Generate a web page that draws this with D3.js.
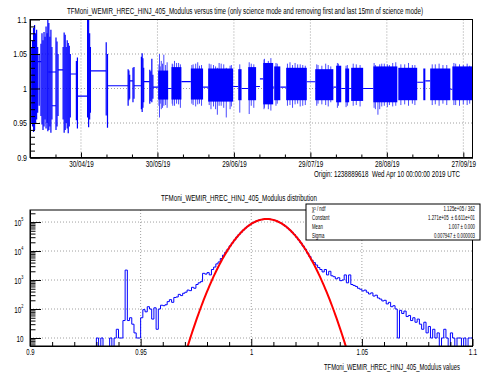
<!DOCTYPE html>
<html><head><meta charset="utf-8">
<script src="https://cdn.jsdelivr.net/npm/d3@7"></script>
<style>
body{margin:0;background:#fff;}
svg{display:block;font-family:"Liberation Sans",Arial,Helvetica,sans-serif;}
text{white-space:pre;}
</style></head><body>
<svg id="c" width="482" height="375"></svg>
<script>
// ================= DATA =================
// --- top panel: modulus vs time (days since origin 2019-04-10 00:00 UTC)
const topTitle = "TFMoni_WEMIR_HREC_HINJ_405_Modulus versus time (only science mode and removing first and last 15mn of science mode)";
const originLabel = "Origin: 1238889618  Wed Apr 10 00:00:00 2019 UTC";
const timeDomainDays = [0, 173.6];
const timeMajorDays = [20, 50, 80, 110, 140, 170];
const timeMajorLabels = ["30/04/19","30/05/19","29/06/19","29/07/19","28/08/19","27/09/19"];
const timeMinorDays = [0,10,30,40,60,70,90,100,120,130,150,160];
const modulusTicks = [0.9,0.95,1,1.05,1.1];
const modulusTickLabels = ["0.9","0.95","1","1.05","1.1"];
const modulusMinorTicks = [0.91,0.92,0.93,0.94,0.96,0.97,0.98,0.99,1.01,1.02,1.03,1.04,1.06,1.07,1.08,1.09];
// dense science-mode blocks: [startDay, endDay, low, high]
const scienceBlocks = [
 [50.3,54.2,0.984,1.026],[55.5,59.4,0.984,1.031],[63.1,67.9,0.984,1.029],[69.9,79.7,0.981,1.029],
 [81.7,83.0,0.983,1.028],[85.6,88.7,0.983,1.031],[91.5,95.4,0.977,1.037],[95.8,98.2,0.983,1.032],
 [100.5,108.6,0.983,1.030],[111.9,119.0,0.983,1.028],[120.1,122.1,0.980,1.033],[123.7,125.2,0.980,1.029],
 [126.0,130.7,0.982,1.030],[134.7,144.1,0.980,1.032],[144.5,151.9,0.983,1.030],[154.3,155.1,0.983,1.029],
 [157.0,164.9,0.983,1.029],[165.7,173.4,0.983,1.032]
];
// individual excursions: [day, low, high]
const spikesEarly = [
 [0.5,0.95,1.06],[1.0,0.945,1.07],[1.4,0.937,1.088],[1.8,0.94,1.092],[2.2,0.95,1.08],[2.6,0.955,1.085],[3.0,0.965,1.06],[3.6,0.975,1.05],
 [4.3,0.96,1.065],[4.7,0.948,1.08],[5.1,0.94,1.07],[5.5,0.945,1.082],[5.9,0.955,1.075],[6.3,0.942,1.09],[6.7,0.95,1.08],[7.0,0.938,1.1],
 [7.4,0.94,1.095],[7.8,0.945,1.075],[8.2,0.936,1.085],[8.6,0.955,1.06],
 [10.2,0.94,1.074],[10.6,0.945,1.068],[11.0,0.96,1.05],
 [13.0,0.955,1.06],[13.4,0.936,1.081],[13.8,0.94,1.078],[14.2,0.95,1.06],[14.6,0.942,1.07],[15.0,0.935,1.066],[15.4,0.945,1.062],[15.8,0.958,1.05],
 [18.2,0.954,1.04],[18.6,0.942,1.045],
 [22.6,0.958,1.1],[23.0,0.944,1.1],[23.4,0.955,1.08],[23.7,0.965,1.06],
 [29.9,0.961,1.067],[30.4,0.943,1.05],
 [38.5,0.975,1.028],[38.8,0.983,1.026],[39.1,0.985,1.02],
 [40.4,0.98,1.03],[40.8,0.985,1.031],
 [43.7,0.97,1.046],[44.0,0.966,1.051],[44.3,0.972,1.044],[44.6,0.98,1.03],
 [47.0,0.978,1.027],[47.4,0.982,1.025],[47.8,0.98,1.043],[48.2,0.985,1.02]
];
const spikesInBlocks = [
 [50.6,0.975,1.035],[50.8,0.958,1.05],[51.1,0.978,1.032],[51.5,0.97,1.04],[52.0,0.972,1.036],[52.5,0.975,1.049],[53.2,0.976,1.034],[53.8,0.972,1.038],
 [55.8,0.978,1.036],[56.0,0.975,1.035],[56.7,0.975,1.04],[57.5,0.978,1.037],[58.3,0.977,1.037],[59.0,0.972,1.035],
 [63.5,0.978,1.034],[64.0,0.976,1.035],[65.0,0.974,1.036],[65.8,0.977,1.038],[66.5,0.978,1.033],[67.3,0.975,1.034],
 [70.3,0.976,1.036],[71.0,0.97,1.035],[72.0,0.974,1.034],[72.8,0.97,1.032],[73.5,0.962,1.03],[74.2,0.975,1.037],[75.0,0.975,1.036],
 [76.0,0.972,1.035],[77.0,0.958,1.03],[78.5,0.97,1.033],[79.0,0.974,1.034],
 [82.3,0.965,1.035],[86.0,0.963,1.038],[86.8,0.975,1.036],[87.8,0.972,1.035],
 [91.8,0.97,1.042],[92.0,0.972,1.043],[93.5,0.97,1.04],[94.5,0.968,1.044],[96.5,0.975,1.037],[97.0,0.978,1.036],
 [101.0,0.975,1.036],[102.0,0.976,1.038],[103.0,0.972,1.034],[104.0,0.977,1.037],[105.0,0.978,1.035],[106.0,0.974,1.035],[107.0,0.975,1.034],[108.0,0.976,1.033],
 [112.5,0.975,1.035],[113.0,0.978,1.034],[114.5,0.977,1.033],[116.0,0.976,1.036],[117.0,0.974,1.034],[118.0,0.98,1.032],
 [120.6,0.972,1.037],[121.0,0.975,1.036],[124.0,0.973,1.033],[124.5,0.975,1.034],[126.8,0.975,1.036],[128.0,0.976,1.035],[129.5,0.974,1.034],
 [135.0,0.972,1.037],[135.5,0.97,1.034],[136.5,0.962,1.03],[137.2,0.97,1.035],[138.0,0.974,1.036],[139.0,0.975,1.036],[140.2,0.973,1.035],
 [141.0,0.976,1.034],[142.3,0.974,1.037],[143.5,0.975,1.038],
 [145.5,0.976,1.035],[147.0,0.977,1.035],[148.5,0.975,1.037],[150.0,0.978,1.034],[151.0,0.976,1.034],
 [157.8,0.976,1.035],[159.0,0.977,1.035],[160.5,0.975,1.036],[162.0,0.978,1.034],[163.5,0.976,1.034],
 [166.3,0.976,1.037],[167.0,0.976,1.036],[168.5,0.975,1.035],[170.0,0.977,1.034],[171.5,0.976,1.036],[172.5,0.978,1.033]
];
// horizontal joins between science periods: [startDay, endDay, level]
const gapLinks = [
 [3.0,4.4,1.039],[8.6,10.2,0.975],[7.2,10.2,1.024],[11.0,13.0,1.027],[15.8,18.2,1.021],[18.6,22.6,0.989],
 [23.7,29.9,1.0255],[30.4,38.5,1.004],[39.1,40.4,1.011],[40.8,43.7,1.004],[44.6,47.0,1.010],[48.2,50.3,1.002],
 [54.2,55.5,1.000],[59.4,63.1,1.010],[67.9,69.9,1.002],[79.7,81.7,1.003],[83.0,85.6,1.000],[88.7,90.2,1.003],
 [90.2,91.5,1.014],[95.4,95.8,1.002],[98.2,100.5,1.002],[108.6,111.9,1.0097],[119.0,120.1,1.002],[122.1,123.7,1.0],
 [125.2,126.0,1.0],[130.7,134.7,1.0],[151.9,154.3,1.009],[155.1,157.0,1.011],[164.9,165.7,0.999]
];

// --- bottom panel: modulus distribution
const histTitle = "TFMoni_WEMIR_HREC_HINJ_405_Modulus distribution";
const histXTitle = "TFMoni_WEMIR_HREC_HINJ_405_Modulus values";
const histRange = [0.9, 1.1];
const binWidth = 0.001;
const binCounts = [
 0,0,0,0,0,0,0,0,0,0, 0,0,0,0,0,0,0,0,0,0, 0,0,0,0,0,0,0,0,0,0,
 10,0,10,0,0,0,10,0,10,20,
 10,10,40,2200,40,50,30,15,10,10,
 50,95,80,120,100,45,110,20,100,135,
 130,140,180,210,170,250,260,320,290,350,
 380,450,430,560,520,700,800,880,1700,1600,
 1800,1500,2300,2800,3600,4200,5500,7200,9000,11500,
 15000,19000,24000,30000,37000,44500,53000,62000,72000,81500,
 91000,100000,108000,115500,121000,125000,128000,128500,126000,121500,
 115500,108500,100000,91000,81500,72000,62000,53000,44500,37000,
 30000,24000,19000,14800,11500,8500,6500,4800,4000,3300,
 2700,2300,1900,2300,1500,2000,1400,1300,1100,1200,
 950,1000,1500,800,1500,700,650,600,520,480,
 420,450,380,330,360,280,300,240,220,190,
 200,150,170,120,130,100,10,90,70,85,
 55,60,40,50,35,45,30,20,35,15,
 25,10,20,10,15,0,10,20,10,0,
 15,10,0,10,10,0,10,0,10,10
];
const histXTicks = [0.9,0.95,1,1.05,1.1];
const histXTickLabels = ["0.9","0.95","1","1.05","1.1"];
const histXMinor = [0.91,0.92,0.93,0.94,0.96,0.97,0.98,0.99,1.01,1.02,1.03,1.04,1.06,1.07,1.08,1.09];
const countDomain = [5.3, 2.6e5];
const countDecades = [10,100,1000,10000,100000];
const countDecadeExp = ["","2","3","4","5"];
const countMinor = [6,7,8,9,20,30,40,50,60,70,80,90,200,300,400,500,600,700,800,900,
 2000,3000,4000,5000,6000,7000,8000,9000,20000,30000,40000,50000,60000,70000,80000,90000,200000];
const statsNames = ["χ² / ndf","Constant","Mean","Sigma"];
const statsValues = ["1.125e+05 / 362","1.271e+05  ± 6.611e+01","1.007 ± 0.000","0.007947 ± 0.000003"];
const fitConstant = 1.271e5, fitMean = 1.007, fitSigma = 0.007947;

// ================= DRAW =================
const svg = d3.select("#c");
const L = 30, R = 472.5;
const BLUE = "#0000ff", GRID = "#a0a0a0";
function squeeze(sel, f){ sel.each(function(){ const w=this.getComputedTextLength(); d3.select(this).attr("textLength", w*f).attr("lengthAdjust","spacingAndGlyphs"); }); }

// ---------- top panel ----------
const tT = 19.5, tB = 157.5;
const xT = d3.scaleLinear().domain(timeDomainDays).range([L, R]);
const yT = d3.scaleLinear().domain([0.9, 1.1]).range([tB, tT]);
svg.append("clipPath").attr("id","clipT").append("rect").attr("x",L).attr("y",tT).attr("width",R-L).attr("height",tB-tT);
const gT = svg.append("g");
gT.selectAll("line.vg").data(timeMajorDays).join("line").attr("x1",d=>xT(d)).attr("x2",d=>xT(d)).attr("y1",tT).attr("y2",tB)
  .attr("stroke",GRID).attr("stroke-dasharray","1,2");
gT.selectAll("line.hg").data(modulusTicks.slice(1)).join("line").attr("x1",L).attr("x2",R).attr("y1",d=>yT(d)).attr("y2",d=>yT(d))
  .attr("stroke",GRID).attr("stroke-dasharray","1,2");
const plotT = svg.append("g").attr("clip-path","url(#clipT)");
plotT.selectAll("line.link").data(gapLinks).join("line")
  .attr("x1",d=>xT(d[0])).attr("x2",d=>xT(d[1])).attr("y1",d=>yT(d[2])).attr("y2",d=>yT(d[2]))
  .attr("stroke",BLUE).attr("stroke-width",1.1);
plotT.selectAll("line.sb").data(spikesInBlocks).join("line")
  .attr("x1",d=>xT(d[0])).attr("x2",d=>xT(d[0])).attr("y1",d=>yT(d[1])).attr("y2",d=>yT(d[2]))
  .attr("stroke","#4a4aff").attr("stroke-width",1);
plotT.selectAll("rect.blk").data(scienceBlocks).join("rect")
  .attr("x",d=>xT(d[0])).attr("width",d=>xT(d[1])-xT(d[0])).attr("y",d=>yT(d[3])).attr("height",d=>yT(d[2])-yT(d[3]))
  .attr("fill",BLUE);
plotT.selectAll("line.se").data(spikesEarly).join("line")
  .attr("x1",d=>xT(d[0])).attr("x2",d=>xT(d[0])).attr("y1",d=>yT(d[1])).attr("y2",d=>yT(d[2]))
  .attr("stroke",BLUE).attr("stroke-width",1.2);
svg.append("rect").attr("x",L).attr("y",tT).attr("width",R-L).attr("height",tB-tT).attr("fill","none").attr("stroke","#000").attr("stroke-width",1);
const axYT = svg.append("g").attr("transform",`translate(${L},0)`)
  .call(d3.axisLeft(yT).tickValues(modulusTicks).tickSize(-10).tickSizeOuter(0).tickPadding(3).tickFormat((d,i)=>modulusTickLabels[i]));
svg.append("g").attr("transform",`translate(${L},0)`)
  .call(d3.axisLeft(yT).tickValues(modulusMinorTicks).tickSize(-5).tickSizeOuter(0).tickFormat(""));
const axXT = svg.append("g").attr("transform",`translate(0,${tB})`)
  .call(d3.axisBottom(xT).tickValues(timeMajorDays).tickSize(-5).tickSizeOuter(0).tickPadding(3).tickFormat((d,i)=>timeMajorLabels[i]));
svg.append("g").attr("transform",`translate(0,${tB})`)
  .call(d3.axisBottom(xT).tickValues(timeMinorDays).tickSize(-3).tickSizeOuter(0).tickFormat(""));

// ---------- bottom panel ----------
const bT = 210, bB = 346;
const xB = d3.scaleLinear().domain(histRange).range([L, R]);
const yB = d3.scaleLog().domain(countDomain).range([bB, bT]);
svg.append("clipPath").attr("id","clipB").append("rect").attr("x",L).attr("y",bT).attr("width",R-L).attr("height",bB-bT);
const gB = svg.append("g");
gB.selectAll("line.vg").data(histXTicks.slice(1,-1)).join("line").attr("x1",d=>xB(d)).attr("x2",d=>xB(d)).attr("y1",bT).attr("y2",bB)
  .attr("stroke",GRID).attr("stroke-dasharray","1,2");
gB.selectAll("line.hg").data(countDecades).join("line").attr("x1",L).attr("x2",R).attr("y1",d=>yB(d)).attr("y2",d=>yB(d))
  .attr("stroke",GRID).attr("stroke-dasharray","1,2");
const plotB = svg.append("g").attr("clip-path","url(#clipB)");
const histPts = [];
binCounts.forEach((c,i)=>{
  const x0 = histRange[0] + i*binWidth, x1 = x0 + binWidth;
  histPts.push([x0, c], [x1, c]);
});
const yOf = c => c > 0 ? yB(c) : bB + 3;
plotB.append("path").datum(histPts)
  .attr("d", d3.line().x(d=>xB(d[0])).y(d=>yOf(d[1])))
  .attr("fill","none").attr("stroke",BLUE).attr("stroke-width",1);
// gaussian fit curve drawn from the displayed fit parameters
const fitXs = d3.range(histRange[0], histRange[1] + 1e-9, 0.0005);
plotB.append("path").datum(fitXs)
  .attr("d", d3.line().x(v=>xB(v)).y(v=>{ const g = fitConstant*Math.exp(-0.5*Math.pow((v-fitMean)/fitSigma,2)); return g>0.01? yB(g) : bB+20; }))
  .attr("fill","none").attr("stroke","#ff0000").attr("stroke-width",2);
svg.append("rect").attr("x",L).attr("y",bT).attr("width",R-L).attr("height",bB-bT).attr("fill","none").attr("stroke","#000").attr("stroke-width",1);
const axXB = svg.append("g").attr("transform",`translate(0,${bB})`)
  .call(d3.axisBottom(xB).tickValues(histXTicks).tickSize(-7).tickSizeOuter(0).tickPadding(3).tickFormat((d,i)=>histXTickLabels[i]));
svg.append("g").attr("transform",`translate(0,${bB})`)
  .call(d3.axisBottom(xB).tickValues(histXMinor).tickSize(-4).tickSizeOuter(0).tickFormat(""));
svg.append("g").attr("transform",`translate(${L},0)`)
  .call(d3.axisLeft(yB).tickValues(countDecades).tickSize(-11).tickSizeOuter(0).tickFormat(""));
svg.append("g").attr("transform",`translate(${L},0)`)
  .call(d3.axisLeft(yB).tickValues(countMinor).tickSize(-5.5).tickSizeOuter(0).tickFormat(""));
// log labels: "10" with superscript exponent, as one text element
const logLab = svg.append("g").attr("font-size",9);
countDecades.forEach((d,i)=>{
  const e = countDecadeExp[i];
  const t = logLab.append("text").attr("x",23.5).attr("y",yB(d)+3.5).attr("text-anchor","end");
  t.append("tspan").text("10");
  if (e) t.append("tspan").attr("font-size",5.5).attr("dy",-5).text(e);
  squeeze(t, 0.7);
});

svg.selectAll(".domain").attr("stroke","#000");
svg.selectAll(".tick line").attr("stroke","#000");
svg.selectAll(".tick text").attr("font-size",9).attr("fill","#000").attr("font-family",null);
squeeze(axYT.selectAll(".tick text"), 0.78);
squeeze(axXT.selectAll(".tick text"), 0.7);
squeeze(axXB.selectAll(".tick text"), 0.66);

// ---------- texts ----------
svg.append("text").attr("x",245).attr("y",14).attr("text-anchor","middle").attr("font-size",8.5)
  .attr("textLength",356).attr("lengthAdjust","spacingAndGlyphs").text(topTitle);
svg.append("text").attr("x",460).attr("y",176.5).attr("text-anchor","end").attr("font-size",9)
  .attr("textLength",146).attr("lengthAdjust","spacingAndGlyphs").text(originLabel);
svg.append("text").attr("x",239).attr("y",201).attr("text-anchor","middle").attr("font-size",8.5)
  .attr("textLength",156).attr("lengthAdjust","spacingAndGlyphs").text(histTitle);
svg.append("text").attr("x",460).attr("y",370).attr("text-anchor","end").attr("font-size",9)
  .attr("textLength",136).attr("lengthAdjust","spacingAndGlyphs").text(histXTitle);

const sb = svg.append("g");
sb.append("rect").attr("x",306).attr("y",204).attr("width",174).attr("height",36).attr("fill","#fff").attr("stroke","#000").attr("stroke-width",1);
statsNames.forEach((n,i)=>{
  const y = 211 + i*9;
  const a = sb.append("text").attr("x",312).attr("y",y).attr("font-size",7).text(n);
  squeeze(a, 0.62);
  const b = sb.append("text").attr("x",475).attr("y",y).attr("font-size",7).attr("text-anchor","end").text(statsValues[i]);
  squeeze(b, 0.62);
});
</script>
</body></html>
